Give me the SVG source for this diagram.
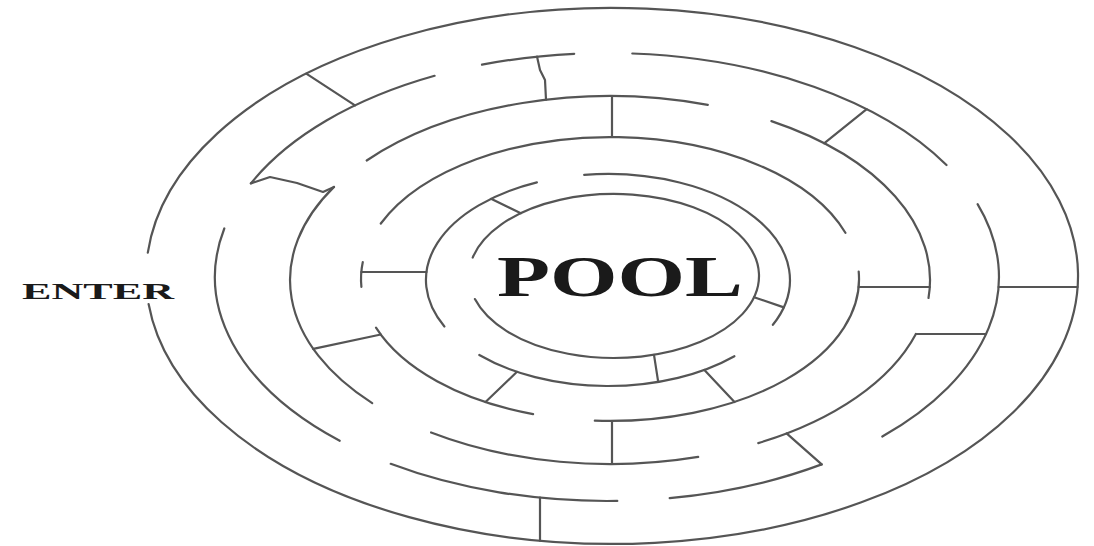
<svg xmlns="http://www.w3.org/2000/svg" width="1094" height="546" viewBox="0 0 1094 546">
<style>
.w{fill:none;stroke:#555;stroke-width:2.2;stroke-linecap:round;stroke-linejoin:round}
.lbl{font-family:"Liberation Serif","Times New Roman",serif;fill:#1a1a1a}
</style>
<rect width="1094" height="546" fill="#fff"/>
<g id="ring1" class="w">
<path d="M147.8 252.6A466 268 0 1 1 148.6 304"/>
</g>
<g id="ring2" class="w">
<path d="M339.7 440.8A392 224 0 0 1 224.3 228.5"/>
<path d="M250.9 183.4A392 224 0 0 1 434.6 75.8"/>
<path d="M482 64.7A392 224 0 0 1 574.2 53.8"/>
<path d="M632.3 53.5A392 224 0 0 1 946.5 165"/>
<path d="M977.6 204.1A392 224 0 0 1 882.3 436.5"/>
<path d="M821.7 464.4A392 224 0 0 1 669.7 498.1"/>
<path d="M617.3 500.9A392 224 0 0 1 390.7 463.8"/>
</g>
<g id="ring3" class="w">
<path d="M366.7 160.5A320 184 0 0 1 707.8 104.8"/>
<path d="M771.4 121.1A320 184 0 0 1 928.5 298"/>
<path d="M915.9 334A320 184 0 0 1 758.3 443.1"/>
<path d="M698.2 456.9A320 184 0 0 1 431.1 432.5"/>
<path d="M372.2 403.1A320 184 0 0 1 334 186.9"/>
</g>
<g id="ring4" class="w">
<path d="M533.1 414.1A249 142 0 0 1 376 327.6"/>
<path d="M361.4 286.9A249 142 0 0 1 362.8 262"/>
<path d="M380.8 223.5A249 142 0 0 1 845.4 232.8"/>
<path d="M858.7 271.6A249 142 0 0 1 594.8 420.7"/>
</g>
<g id="ring5" class="w">
<path d="M584.2 174.9A182 106 0 0 1 772.9 324.8"/>
<path d="M734.4 356.2A182 106 0 0 1 479.3 355"/>
<path d="M444.4 326.5A182 106 0 0 1 536.9 182.4"/>
</g>
<g id="pool">
<path class="w" d="M472.7 257.6A145 82 0 1 1 474.9 299.1"/>
<text class="lbl" x="497" y="296" font-size="56" font-weight="bold" textLength="246" lengthAdjust="spacingAndGlyphs">POOL</text>
</g>
<g id="enter">
<text class="lbl" x="22" y="299" font-size="24" font-weight="bold" textLength="152" lengthAdjust="spacingAndGlyphs">ENTER</text>
</g>
<g id="connectors" class="w">
<path d="M306.3 73.7L355 105.4"/>
<path d="M998.6 287H1077.6"/>
<path d="M540 497.7V540.8"/>
<polyline points="250.9,183.4 270,177 297,183 323,192 334,186.9"/>
<polyline points="537,56.6 540,70 545,80 546,99.7"/>
<path d="M866.7 109.2L824.1 143.3"/>
<path d="M915.9 334H986.1"/>
<path d="M786.6 433.4L821.7 464.4"/>
<path d="M612 96V137"/>
<path d="M612 421V464"/>
<path d="M858.6 287H929.8"/>
<path d="M313.3 348.9L380.8 334.5"/>
<path d="M361.3 272H426.5"/>
<path d="M485.5 402L517 371.8"/>
<path d="M704.4 369.9L734.5 402"/>
<path d="M491 198.8L520.8 213.2"/>
<path d="M754.1 297.2L783.8 307.4"/>
<path d="M654 354.8L658.2 381.9"/>
</g>
</svg>
